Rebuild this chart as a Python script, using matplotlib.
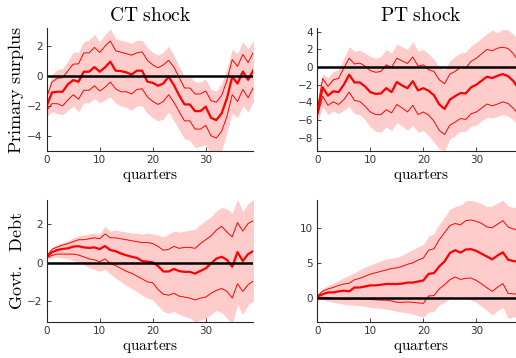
import numpy as np
import matplotlib.pyplot as plt

plt.rcParams['mathtext.fontset'] = 'cm'

quarters = np.arange(40)

# CT shock, primary surplus
ct_surplus_med = [-2.0, -1.1, -1.05, -1.05, -0.55, -0.27, -0.38, 0.29, 0.29, 0.6,
                  0.29, 0.58, 0.96, 0.36, 0.33, 0.25, 0.1, 0.36, 0.36, -0.38,
                  -0.45, -0.65, -0.5, -0.05, -0.6, -1.3, -1.9, -1.9, -2.35, -2.35,
                  -2.05, -2.8, -2.95, -2.5, -1.5, -0.05, -0.5, 0.3, -0.25, 0.4]
ct_surplus_hi68 = [-1.4, -0.4, -0.15, -0.1, 0.35, 0.8, 0.82, 1.55, 1.55, 1.92,
                   1.58, 2.0, 2.35, 1.7, 1.6, 1.5, 1.4, 1.55, 1.62, 1.05,
                   0.75, 0.55, 0.75, 1.05, 0.6, -0.1, -0.8, -0.8, -1.2, -1.2,
                   -1.0, -1.65, -1.75, -1.3, -0.3, 1.1, 0.65, 1.45, 0.9, 1.6]
ct_surplus_lo68 = [-2.3, -1.85, -1.85, -2.0, -1.6, -1.25, -1.55, -0.95, -0.95, -0.65,
                   -1.0, -0.75, -0.4, -0.85, -1.05, -1.05, -1.2, -0.9, -0.85, -1.4,
                   -1.7, -1.9, -1.7, -1.25, -1.75, -2.4, -3.0, -3.0, -3.55, -3.55,
                   -3.3, -4.0, -4.15, -3.7, -2.7, -1.25, -1.7, -0.9, -1.45, -0.75]
ct_surplus_hi90 = [-1.1, 0.1, 0.45, 0.5, 1.0, 1.6, 1.6, 2.3, 2.4, 2.8,
                   2.3, 2.8, 3.15, 2.5, 2.4, 2.3, 2.2, 2.4, 2.4, 1.9,
                   1.6, 1.4, 1.6, 2.0, 1.4, 0.6, 0.0, 0.0, -0.4, -0.4,
                   -0.2, -0.9, -1.0, -0.5, 0.5, 1.8, 1.5, 2.3, 1.8, 2.4]
ct_surplus_lo90 = [-2.7, -2.4, -2.5, -2.6, -2.3, -2.0, -2.4, -1.8, -1.8, -1.5,
                   -1.8, -1.6, -1.4, -1.8, -2.0, -2.1, -2.3, -2.0, -2.0, -2.5,
                   -2.8, -3.0, -2.9, -2.4, -3.0, -3.6, -4.2, -4.3, -4.8, -4.7,
                   -4.6, -5.2, -5.4, -5.0, -3.8, -2.5, -2.8, -2.0, -2.4, -1.7]

# PT shock, primary surplus
pt_surplus_med = [-5.2, -2.3, -3.25, -2.75, -2.85, -2.0, -0.87, -1.75, -1.75, -2.2,
                  -2.85, -3.05, -3.0, -2.4, -2.85, -1.7, -2.1, -2.4, -1.6, -2.65,
                  -2.4, -2.7, -3.2, -4.25, -4.75, -3.7, -3.3, -2.95, -3.0, -2.3,
                  -2.0, -1.55, -1.1, -1.25, -1.0, -0.8, -1.05, -1.6, -2.5, -3.0]
pt_surplus_hi68 = [-4.8, -1.3, -2.2, -1.45, -1.3, -0.1, 1.0, 0.35, 0.45, 0.1,
                   -0.4, -0.6, -0.5, 0.25, -0.05, 1.0, 0.7, 0.4, 1.15, 0.1,
                   0.25, -0.3, -0.5, -1.45, -1.9, -0.8, -0.5, 0.0, -0.1, 0.65,
                   1.0, 1.5, 2.0, 1.85, 2.15, 2.25, 2.1, 1.5, 0.6, 0.0]
pt_surplus_lo68 = [-5.6, -3.3, -4.35, -3.95, -4.25, -3.7, -2.85, -3.8, -3.9, -4.45,
                   -5.1, -5.4, -5.4, -4.85, -5.2, -4.25, -4.65, -5.1, -4.35, -5.4,
                   -5.1, -5.45, -6.15, -7.2, -7.65, -6.6, -6.25, -5.85, -5.95, -5.3,
                   -5.1, -4.65, -4.2, -4.4, -4.2, -3.95, -4.15, -4.7, -5.4, -6.0]
pt_surplus_hi90 = [-4.2, -0.8, -1.2, -0.5, -0.3, 1.0, 2.3, 1.8, 1.9, 1.6,
                   1.2, 1.0, 1.2, 2.0, 1.6, 2.6, 2.3, 2.0, 2.9, 1.8,
                   2.0, 1.5, 0.9, 0.0, -0.3, 0.7, 1.2, 1.6, 1.7, 2.4,
                   2.8, 3.3, 3.8, 4.2, 3.9, 4.3, 4.2, 3.7, 3.0, 2.5]
pt_surplus_lo90 = [-6.3, -4.5, -5.4, -5.0, -5.3, -4.9, -4.5, -5.3, -5.4, -6.0,
                   -6.8, -7.3, -7.4, -6.8, -7.2, -6.3, -6.7, -7.2, -6.6, -7.4,
                   -7.2, -7.8, -8.5, -9.3, -9.5, -8.2, -7.8, -7.3, -7.3, -6.7,
                   -6.6, -6.1, -5.7, -5.8, -5.6, -5.4, -5.6, -6.0, -6.8, -7.5]

# CT shock, government debt
ct_debt_med = [0.3, 0.55, 0.66, 0.72, 0.75, 0.84, 0.86, 0.8, 0.77, 0.8,
               0.71, 0.87, 0.66, 0.6, 0.48, 0.39, 0.31, 0.25, 0.09, 0.05,
               0.02, -0.17, -0.46, -0.46, -0.33, -0.44, -0.48, -0.48, -0.57, -0.43,
               -0.3, -0.04, 0.21, 0.31, 0.15, -0.21, 0.55, 0.09, 0.45, 0.61]
ct_debt_hi68 = [0.35, 0.7, 0.82, 0.92, 1.0, 1.1, 1.2, 1.2, 1.25, 1.3,
                1.25, 1.5, 1.3, 1.3, 1.25, 1.2, 1.15, 1.1, 1.05, 1.05,
                1.0, 0.85, 0.65, 0.7, 0.85, 0.75, 0.8, 0.8, 0.75, 1.0,
                1.2, 1.4, 1.7, 1.9, 1.6, 1.35, 2.1, 1.65, 2.05, 2.2]
ct_debt_lo68 = [0.25, 0.38, 0.45, 0.45, 0.45, 0.45, 0.4, 0.3, 0.2, 0.15,
                0.05, 0.2, -0.05, -0.15, -0.3, -0.45, -0.55, -0.7, -0.85, -1.0,
                -1.05, -1.4, -1.65, -1.7, -1.6, -1.75, -1.8, -1.85, -1.95, -1.85,
                -1.8, -1.6, -1.45, -1.35, -1.5, -1.85, -1.1, -1.5, -1.15, -0.95]
ct_debt_hi90 = [0.4, 0.8, 0.95, 1.05, 1.15, 1.3, 1.4, 1.45, 1.5, 1.55,
                1.5, 1.9, 1.65, 1.7, 1.65, 1.6, 1.55, 1.55, 1.5, 1.55,
                1.5, 1.45, 1.35, 1.5, 1.65, 1.6, 1.65, 1.7, 1.75, 2.0,
                2.2, 2.4, 2.7, 2.9, 2.8, 2.6, 3.3, 2.7, 3.1, 3.3]
ct_debt_lo90 = [0.2, 0.25, 0.3, 0.25, 0.2, 0.1, 0.0, -0.1, -0.25, -0.35,
                -0.45, -0.35, -0.6, -0.8, -1.0, -1.2, -1.35, -1.5, -1.7, -1.85,
                -1.95, -2.25, -2.55, -2.65, -2.55, -2.7, -2.8, -2.9, -3.1, -3.0,
                -2.9, -2.7, -2.5, -2.6, -2.9, -3.2, -2.2, -2.7, -2.2, -2.0]

# PT shock, government debt
pt_debt_med = [0.2, 0.55, 0.8, 0.8, 0.95, 1.05, 0.95, 1.5, 1.5, 1.65,
               1.8, 1.8, 1.9, 2.0, 2.0, 2.0, 2.05, 2.2, 2.2, 2.35,
               2.5, 3.45, 3.55, 4.5, 5.2, 6.4, 6.8, 6.45, 6.9, 6.95,
               6.7, 6.3, 5.9, 5.5, 6.05, 6.5, 5.45, 5.25, 5.15, 5.05]
pt_debt_hi68 = [0.3, 1.0, 1.3, 1.5, 1.8, 2.0, 2.1, 2.6, 2.8, 3.1,
                3.4, 3.6, 3.8, 4.0, 4.2, 4.3, 4.5, 4.8, 5.0, 5.4,
                5.7, 6.8, 7.0, 8.3, 9.3, 10.3, 10.6, 10.4, 11.0, 11.1,
                10.9, 10.6, 10.1, 10.0, 10.5, 11.0, 10.1, 9.8, 9.6, 9.4]
pt_debt_lo68 = [0.1, 0.1, 0.05, -0.05, -0.1, -0.15, -0.2, -0.1, -0.15, -0.2,
                -0.2, -0.25, -0.3, -0.3, -0.4, -0.6, -0.6, -0.55, -0.6, -0.7,
                -0.75, 0.3, 0.35, 1.3, 1.9, 2.6, 3.0, 2.65, 2.8, 2.85,
                2.5, 2.0, 1.45, 0.95, 1.55, 2.05, 0.65, 0.6, 0.5, 0.4]
pt_debt_hi90 = [0.4, 1.3, 1.8, 2.1, 2.5, 2.9, 3.2, 3.6, 4.0, 4.4,
                4.7, 5.0, 5.3, 5.5, 5.7, 5.8, 6.1, 6.5, 6.9, 7.3,
                7.6, 8.8, 9.2, 10.5, 11.5, 12.6, 13.0, 13.2, 13.8, 13.9,
                13.7, 13.4, 13.0, 13.1, 13.5, 13.9, 13.1, 12.9, 12.8, 12.7]
pt_debt_lo90 = [0.0, -0.2, -0.4, -0.6, -0.75, -0.9, -1.0, -1.0, -1.1, -1.2,
                -1.3, -1.4, -1.5, -1.6, -1.7, -1.9, -2.0, -2.1, -2.3, -2.5,
                -2.7, -2.0, -1.9, -1.0, -0.6, -0.1, 0.3, 0.0, -0.1, -0.3,
                -0.6, -1.2, -1.8, -2.4, -1.8, -1.3, -2.9, -2.7, -2.8, -2.9]

band_col = '#ffcccc'
line_col = '#ff0000'

fig = plt.figure(figsize=(5.16, 3.58), dpi=100)

w = 0.4006
h = 0.342
panels = [
    ([0.0905, 0.579, w, h], ct_surplus_med, ct_surplus_lo68, ct_surplus_hi68,
     ct_surplus_lo90, ct_surplus_hi90, (-5, 3.2), [-4, -2, 0, 2]),
    ([0.615, 0.579, w, h], pt_surplus_med, pt_surplus_lo68, pt_surplus_hi68,
     pt_surplus_lo90, pt_surplus_hi90, (-9.5, 4.4), [-8, -6, -4, -2, 0, 2, 4]),
    ([0.0905, 0.1006, w, h], ct_debt_med, ct_debt_lo68, ct_debt_hi68,
     ct_debt_lo90, ct_debt_hi90, (-3.1, 3.3), [-2, 0, 2]),
    ([0.615, 0.1006, w, h], pt_debt_med, pt_debt_lo68, pt_debt_hi68,
     pt_debt_lo90, pt_debt_hi90, (-3.4, 14.0), [0, 5, 10]),
]

axes = []
for pos, med, lo68, hi68, lo90, hi90, ylim, yt in panels:
    ax = fig.add_axes(pos)
    ax.fill_between(quarters, lo90, hi90, color=band_col, lw=0)
    ax.plot(quarters, hi68, color=line_col, lw=0.7)
    ax.plot(quarters, lo68, color=line_col, lw=0.7)
    ax.plot(quarters, med, color=line_col, lw=1.6)
    ax.axhline(0, color='black', lw=1.8)
    ax.set_xlim(0, 39)
    ax.set_ylim(*ylim)
    ax.set_xticks([0, 10, 20, 30])
    ax.set_yticks(yt)
    for s in ['top', 'right']:
        ax.spines[s].set_visible(False)
    for s in ['left', 'bottom']:
        ax.spines[s].set_color('#262626')
        ax.spines[s].set_linewidth(0.8)
    ax.tick_params(direction='in', length=3, width=0.6, labelsize=7.5,
                   colors='#262626', labelcolor='#333333', pad=3)
    ax.set_xlabel(r'$\mathrm{quarters}$', fontsize=11, labelpad=1.5)
    axes.append(ax)

axes[0].set_title(r'$\mathrm{CT\ shock}$', fontsize=14, pad=5)
axes[1].set_title(r'$\mathrm{PT\ shock}$', fontsize=14, pad=5)
axes[0].set_ylabel(r'$\mathrm{Primary\ surplus}$', fontsize=13)
axes[2].set_ylabel(r'$\mathrm{Govt.\ \ Debt}$', fontsize=13)
axes[0].yaxis.set_label_coords(-0.1, 0.5)
axes[2].yaxis.set_label_coords(-0.1, 0.5)

fig.savefig('out.png', dpi=100)
